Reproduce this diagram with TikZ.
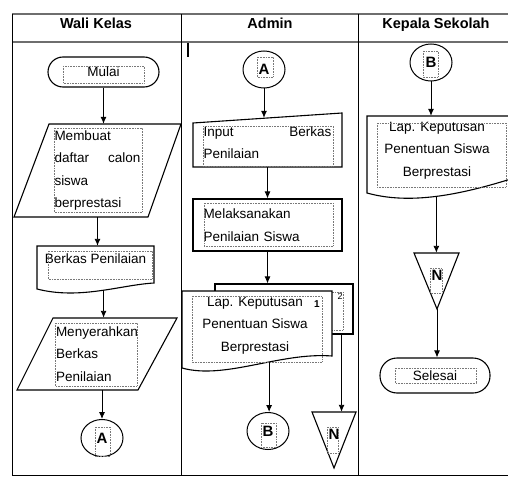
\documentclass[tikz,border=0pt]{standalone}
\usepackage{fontspec}
\setmainfont{Liberation Sans}
\usetikzlibrary{shapes.geometric,arrows.meta}
\definecolor{lanegray}{RGB}{110,110,110}
\definecolor{framegray}{RGB}{120,120,120}

\tikzset{
	head/.style={font=\bfseries\fontsize{14.5}{17}\selectfont,text height=11pt,text depth=3pt},
	txt/.style={font=\fontsize{13.5}{22.5}\selectfont,inner sep=0pt},
	term/.style={draw,line width=1.1pt,rounded corners=15pt,minimum width=111pt,minimum height=30pt,font=\fontsize{13.5}{16}\selectfont},
	proc/.style={txt,draw,line width=1.1pt,align=left},
	conn/.style={draw,ellipse,line width=1pt,minimum width=42pt,minimum height=37pt,inner sep=0pt,font=\bfseries\fontsize{15}{18}\selectfont},
	merge/.style={minimum width=45pt,minimum height=56pt,inner sep=0pt},
	mlabel/.style={font=\bfseries\fontsize{15}{18}\selectfont,yshift=5.5pt},
	num/.style={font=\bfseries\fontsize{10}{12}\selectfont,inner sep=0pt},
	shape line/.style={line width=1.1pt},
	txtframe/.style={densely dotted,framegray,line width=.6pt},
	arr/.style={-{Latex[length=7pt,width=6pt]},line width=.9pt}
}

\begin{document}
\begin{tikzpicture}[x=1pt,y=-1pt]
	\clip (0,0) rectangle (508,476);
	\fill[white] (0,0) rectangle (508,476);

	\draw[line width=1.8pt,lanegray] (12,14) -- (508,14);
	\draw[line width=1.8pt,lanegray] (12,42) -- (508,42);
	\draw[line width=.9pt] (12,14) -- (12,475) -- (508,475);
	\draw[line width=.9pt] (181,14) -- (181,475);
	\draw[line width=.9pt] (358,14) -- (358,475);
	\draw[line width=1.4pt] (188,43) -- (188,57);

	\node[head] (wali) at (96,25) {Wali Kelas};
	\node[head] (admin) at (270,25) {Admin};
	\node[head] (kepala) at (436,25) {Kepala Sekolah};

	\draw[shape line] (49,124) -- (181,124) -- (148,217) -- (14,217) -- cycle;
	\draw[shape line] (37,246) -- (154,246) -- (154,283) .. controls (120,285) and (80,300) .. coordinate[pos=.46] (bwave) (37,289) -- cycle;
	\draw[shape line] (53,318) -- (177,318) -- (138,390) -- (17,390) -- cycle;
	\draw[shape line] (193,123) -- (342,113) -- (342,167) -- (193,167) -- cycle;
	\node[shape line,draw,fill=white,minimum width=138pt,minimum height=50pt] (backdoc) at (284,309) {};
	\draw[txtframe] (300,292) rectangle (343,330);
	\draw[shape line,fill=white] (182,291) -- (332,291) -- (332,356) .. controls (280,352) and (225,380) .. coordinate[pos=.4] (fwave) (182,368) -- cycle;
	\draw[shape line,fill=white] (367,116) -- (514,116) -- (514,178) .. controls (460,195) and (410,205) .. coordinate[pos=.5] (kwave) (367,193) -- cycle;
	\draw[shape line] (312,412) -- (356,412) -- (334,468) -- cycle;
	\draw[shape line] (414,253) -- (459,253) -- (437,309) -- cycle;

	\node[term] (mulai) at (103.5,72) {Mulai};
	\node[txt,text width=86pt,align=left,minimum width=167pt,minimum height=93pt] (buat) at (97.5,170.5) {Membuat\\\makebox[86pt][s]{daftar\hfill calon}\\siswa\\berprestasi};
	\node[txt,minimum width=117pt,minimum height=26pt] (berkas) at (95.5,259) {Berkas Penilaian};
	\node[txt,text width=82pt,align=left,minimum width=160pt,minimum height=72pt] (serah) at (97,354) {Menyerahkan\\Berkas\\Penilaian};
	\node[conn] (awali) at (102,438) {A};

	\node[conn] (aadmin) at (264,69.5) {A};
	\node[txt,text width=128pt,align=left,minimum width=149pt,minimum height=49pt] (input) at (267.5,142.5) {\makebox[128pt][s]{Input\hfill Berkas}\\Penilaian};
	\node[proc,text width=128pt,minimum width=149pt,minimum height=52pt] (proses) at (267.5,225) {Melaksanakan\\Penilaian Siswa};
	\node[txt,align=center,minimum width=150pt,minimum height=69pt] (lapadmin) at (255,325.5) {Lap. Keputusan\\Penentuan Siswa\\Berprestasi};
	\node[num] (pg1) at (317,304) {1};
	\node[num,font=\fontsize{9}{11}\selectfont] (pg2) at (340,296) {2};
	\node[conn] (badmin) at (268,431) {B};
	\node[merge,label={[mlabel]center:N}] (nadmin) at (334,440) {};

	\node[conn] (bkepala) at (431,62.5) {B};
	\node[txt,align=center,minimum width=140pt,minimum height=69pt] (lapkepala) at (437,150.5) {Lap. Keputusan\\Penentuan Siswa\\Berprestasi};
	\node[merge,label={[mlabel]center:N}] (nkepala) at (437,281) {};
	\node[term,minimum width=110pt,minimum height=35pt,rounded corners=17pt] (selesai) at (435,375.5) {Selesai};

	\foreach \xa/\ya/\xb/\yb in {63/66/144/83,54/128/142/212,48/251/152/279,55/323/137/386,95/427/110/456,257/57/273/77,203/126/333/166,204/203/333/246,192/296/322/362,261/423/276/447,327/427/338/453,423/51/438/77,377/123/506/187,430/268/442/293,395/368/476/383}
		\draw[txtframe] (\xa,\ya) rectangle (\xb,\yb);

	\foreach \a/\b in {mulai/buat,buat/berkas,aadmin/input,input/proses,proses/backdoc,bkepala/lapkepala,nkepala/selesai}
		\draw[arr] (\a.south) -- (\a.south |- \b.north);
	\draw[arr] (bwave) -- (bwave |- serah.north);
	\draw[arr] (awali.north |- serah.south) -- (awali.north);
	\draw[arr] (fwave) -- (fwave |- badmin.north);
	\draw[arr] ([xshift=-12pt]backdoc.south east) -- ([xshift=-12pt]backdoc.south east |- nadmin.north);
	\draw[arr] (kwave) -- (kwave |- nkepala.north);
\end{tikzpicture}
\end{document}
